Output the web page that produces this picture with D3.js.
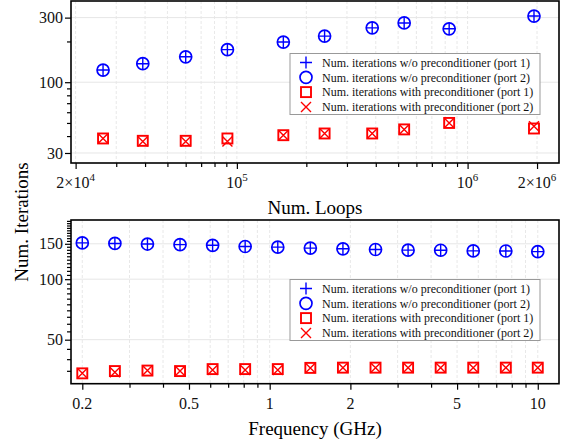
<!DOCTYPE html>
<html>
<head>
<meta charset="utf-8">
<script src="https://cdn.jsdelivr.net/npm/d3@7"></script>
<style>
  body { margin: 0; background: #fff; }
  svg { display: block; font-family: "Liberation Serif", "Times New Roman", serif; }
  svg text { font-family: "Liberation Serif", "Times New Roman", serif; }
</style>
</head>
<body>
<svg id="chart" width="571" height="445"></svg>
<script>
// top panel: iterations vs number of loops
const loops = [2.63e4, 3.91e4, 6.0e4, 9.1e4, 1.59e5, 2.4e5, 3.86e5, 5.31e5, 8.32e5, 1.94e6];
const loopsNoPrePort1 = [123, 137, 154, 174, 198, 219, 252, 274, 248, 308];
const loopsNoPrePort2 = [123, 137, 154, 174, 198, 219, 252, 274, 248, 308];
const loopsPrePort1 = [38.4, 36.9, 36.9, 38.4, 40.6, 41.8, 41.8, 44.8, 50.0, 45.5];
const loopsPrePort2 = [38.4, 36.5, 36.5, 36.5, 40.6, 41.8, 41.8, 44.8, 50.0, 47.3];

// bottom panel: iterations vs frequency
const freqs = [0.2, 0.2646, 0.35, 0.463, 0.6125, 0.81, 1.072, 1.418, 1.876, 2.482, 3.283, 4.343, 5.745, 7.6, 10];
const freqNoPrePort1 = [151.5, 150.6, 149.6, 148.5, 147.4, 145.4, 144.3, 142.8, 141.6, 140.5, 139.5, 139.3, 138.3, 138.1, 137.2];
const freqNoPrePort2 = [151.5, 150.6, 149.6, 148.5, 147.4, 145.4, 144.3, 142.8, 141.6, 140.5, 139.5, 139.3, 138.3, 138.1, 137.2];
const freqPrePort1 = [34.0, 34.9, 35.1, 34.9, 35.7, 35.7, 35.7, 36.2, 36.3, 36.3, 36.3, 36.3, 36.3, 36.3, 36.3];
const freqPrePort2 = [34.0, 34.4, 35.1, 34.9, 35.3, 35.3, 35.3, 36.2, 36.3, 36.3, 36.3, 36.3, 36.3, 36.3, 36.3];

const legendLabels = [
  'Num. iterations w/o preconditioner (port 1)',
  'Num. iterations w/o preconditioner (port 2)',
  'Num. iterations with preconditioner (port 1)',
  'Num. iterations with preconditioner (port 2)'
];

// tick lists
const loopMajor = [2e4, 1e5, 1e6, 2e6];
const loopMinor = [3e4, 4e4, 5e4, 6e4, 7e4, 8e4, 9e4, 2e5, 3e5, 4e5, 5e5, 6e5, 7e5, 8e5, 9e5];
const loopIterMajor = [30, 100, 300];
const loopIterMinor = [40, 50, 60, 70, 80, 90, 200];
const freqMajor = [0.2, 0.5, 1, 2, 5, 10];
const freqMinor = [0.3, 0.4, 0.6, 0.7, 0.8, 0.9, 3, 4, 6, 7, 8, 9];
const freqIterMajor = [50, 100, 150];
const freqIterMinor = [35, 40, 45, 55, 60, 65, 70, 75, 80, 85, 90, 95, 105, 110, 115, 120, 125, 130, 135, 140, 145, 155, 160, 165, 170, 175, 180, 185, 190, 195];

const BLUE = '#0000ff';
const RED = '#ff0000';
const SERIF = '"Liberation Serif", "Times New Roman", serif';

const svg = d3.select('#chart');

const superLabel = (mant, exp) => (sel) => {
  sel.text(null);
  if (mant) sel.append('tspan').text(mant + '\u00d7');
  sel.append('tspan').text('10');
  sel.append('tspan').attr('font-size', 11).attr('dy', -7).text(exp);
};

function marker(g, kind, x, y) {
  if (kind === 'plus') {
    g.append('path').attr('d', `M${x-6},${y}H${x+6}M${x},${y-6}V${y+6}`)
      .attr('stroke', BLUE).attr('stroke-width', 1.4).attr('fill', 'none');
  } else if (kind === 'circle') {
    g.append('circle').attr('cx', x).attr('cy', y).attr('r', 6)
      .attr('stroke', BLUE).attr('stroke-width', 1.7).attr('fill', 'none');
  } else if (kind === 'square') {
    g.append('rect').attr('x', x - 5).attr('y', y - 5).attr('width', 10).attr('height', 10)
      .attr('stroke', RED).attr('stroke-width', 1.9).attr('fill', 'none');
  } else {
    g.append('path').attr('d', `M${x-5},${y-5}L${x+5},${y+5}M${x-5},${y+5}L${x+5},${y-5}`)
      .attr('stroke', RED).attr('stroke-width', 1.4).attr('fill', 'none');
  }
}

function drawPanel(cfg) {
  const x = d3.scaleLog().domain(cfg.xDomain).range([71, 559]);
  const y = d3.scaleLog().domain(cfg.yDomain).range([cfg.bottom, cfg.top]);
  const g = svg.append('g');

  // grid
  g.selectAll('.vgrid').data(cfg.xMajor.concat(cfg.xMinor)).enter().append('line')
    .attr('x1', d => x(d)).attr('x2', d => x(d))
    .attr('y1', cfg.top).attr('y2', cfg.bottom)
    .attr('stroke', '#e2e2e2').attr('stroke-width', 0.8).attr('stroke-dasharray', '3,2');
  g.selectAll('.hgrid').data(cfg.yMajor).enter().append('line')
    .attr('x1', 71).attr('x2', 559)
    .attr('y1', d => y(d)).attr('y2', d => y(d))
    .attr('stroke', '#e6e6e6').attr('stroke-width', 1);

  // axes
  const xAxisMinor = d3.axisBottom(x).tickValues(cfg.xMinor).tickSize(4).tickFormat('');
  const xAxisMajor = d3.axisBottom(x).tickValues(cfg.xMajor).tickSize(6).tickFormat('');
  const yAxisMinor = d3.axisLeft(y).tickValues(cfg.yMinor).tickSize(4).tickFormat('');
  const yAxisMajor = d3.axisLeft(y).tickValues(cfg.yMajor).tickSize(6).tickFormat(d3.format('d'));

  [xAxisMinor, xAxisMajor].forEach(ax => {
    g.append('g').attr('transform', `translate(0,${cfg.bottom})`).call(ax)
      .call(s => s.select('.domain').remove())
      .selectAll('line').attr('stroke', '#000').attr('stroke-width', 1.2);
  });
  [yAxisMinor, yAxisMajor].forEach(ax => {
    const a = g.append('g').attr('transform', 'translate(71,0)').call(ax)
      .attr('font-family', SERIF);
    a.select('.domain').remove();
    a.selectAll('line').attr('stroke', '#000').attr('stroke-width', 1.2);
    a.selectAll('text').attr('font-size', 16).attr('fill', '#111').attr('x', -8);
  });

  // x tick labels
  g.selectAll('.xlab').data(cfg.xMajor).enter().append('text')
    .attr('x', d => x(d)).attr('y', cfg.bottom + 25)
    .attr('text-anchor', 'middle').attr('font-size', 16).attr('fill', '#111')
    .each(function(d, i) { cfg.xLabel(d3.select(this), d, i); });

  // frame
  g.append('rect').attr('x', 71).attr('y', cfg.top)
    .attr('width', 488).attr('height', cfg.bottom - cfg.top)
    .attr('fill', 'none').attr('stroke', '#000').attr('stroke-width', 1.6);

  // axis title
  g.append('text').attr('x', 315).attr('y', cfg.bottom + 40 + 11)
    .attr('text-anchor', 'middle').attr('font-size', 19).text(cfg.xTitle);

  // data
  const pts = g.append('g');
  cfg.xs.forEach((d, i) => {
    marker(pts, 'plus', x(d), y(cfg.s1[i]));
    marker(pts, 'circle', x(d), y(cfg.s2[i]));
    marker(pts, 'square', x(d), y(cfg.s3[i]));
    marker(pts, 'cross', x(d), y(cfg.s4[i]));
  });

  // legend
  const lg = g.append('g').attr('transform', `translate(290,${cfg.legendTop})`);
  lg.append('rect').attr('width', 250).attr('height', 61)
    .attr('fill', '#fff').attr('stroke', '#999').attr('stroke-width', 1);
  ['plus', 'circle', 'square', 'cross'].forEach((k, i) => {
    const yy = 9 + i * 14.8;
    marker(lg, k, 16, yy);
    lg.append('text').attr('x', 32).attr('y', yy + 4.3)
      .attr('font-size', 12).attr('fill', '#111').text(legendLabels[i]);
  });
}

drawPanel({
  xDomain: [1.91e4, 2.49e6], yDomain: [25.3, 398], top: 1, bottom: 163,
  xMajor: loopMajor, xMinor: loopMinor, yMajor: loopIterMajor, yMinor: loopIterMinor,
  xLabel: (sel, d, i) => superLabel(['2', '', '', '2'][i], String(Math.round(Math.log10(d))))(sel),
  xTitle: 'Num. Loops',
  xs: loops, s1: loopsNoPrePort1, s2: loopsNoPrePort2, s3: loopsPrePort1, s4: loopsPrePort2,
  legendTop: 53.5
});

drawPanel({
  xDomain: [0.1815, 12.0], yDomain: [30.2, 197], top: 220, bottom: 383.7,
  xMajor: freqMajor, xMinor: freqMinor, yMajor: freqIterMajor, yMinor: freqIterMinor,
  xLabel: (sel, d) => sel.text(d),
  xTitle: 'Frequency (GHz)',
  xs: freqs, s1: freqNoPrePort1, s2: freqNoPrePort2, s3: freqPrePort1, s4: freqPrePort2,
  legendTop: 279.5
});

// shared y title
svg.append('text').attr('transform', 'translate(28,222) rotate(-90)')
  .attr('text-anchor', 'middle').attr('font-size', 19).text('Num. Iterations');
</script>
</body>
</html>
